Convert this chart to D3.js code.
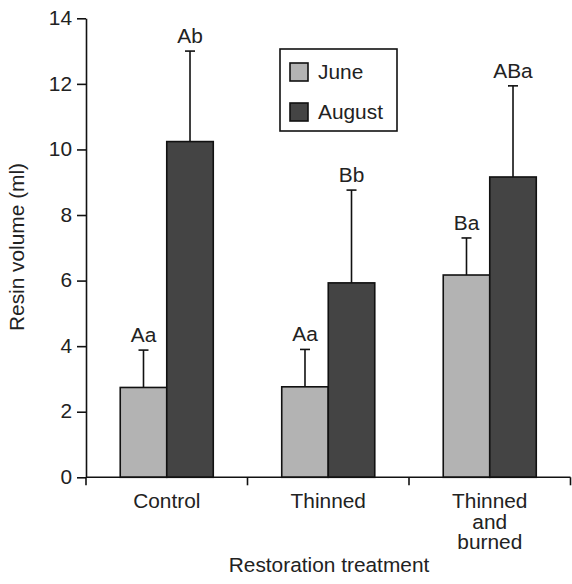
<!DOCTYPE html>
<html><head><meta charset="utf-8">
<script src="https://cdn.jsdelivr.net/npm/d3@7"></script>
<style>body{margin:0;background:#fff}svg{display:block}text{font-family:"Liberation Sans",Arial,Helvetica,sans-serif;fill:#222}</style>
</head><body>
<svg id="c" width="572" height="584"></svg>
<script>
const categories = [["Control"], ["Thinned"], ["Thinned", "and", "burned"]];
const seriesNames = ["June", "August"];
const juneValues = [2.74, 2.76, 6.17];
const juneErrors = [1.14, 1.14, 1.13];
const augustValues = [10.24, 5.93, 9.16];
const augustErrors = [2.76, 2.83, 2.78];
const juneLetters = ["Aa", "Aa", "Ba"];
const augustLetters = ["Ab", "Bb", "ABa"];
const yTicks = [0, 2, 4, 6, 8, 10, 12, 14];
const colors = {June: "#b3b3b3", August: "#444444"};

const svg = d3.select("#c");
const fs = 19.5;
const sx = 1.07;
function txt(parent, x, y, str, anchor, rot) {
  return parent.append("text")
    .attr("transform", `translate(${x},${y})` + (rot ? ` rotate(${rot})` : "") + ` scale(${sx},1)`)
    .attr("text-anchor", anchor || "start").attr("font-size", fs).text(str);
}
const catKeys = categories.map(c => c.join(" "));
const x0 = d3.scaleBand().domain(catKeys).range([86, 570.5]).paddingInner(0).paddingOuter(0);
const x1 = d3.scaleBand().domain(seriesNames).range([0, x0.bandwidth()]).paddingInner(0).paddingOuter(0.736);
const y = d3.scaleLinear().domain([0, 14]).range([477.3, 18.3]);

const rows = [];
catKeys.forEach((k, i) => {
  rows.push({cat: k, s: "June", v: juneValues[i], e: juneErrors[i], l: juneLetters[i]});
  rows.push({cat: k, s: "August", v: augustValues[i], e: augustErrors[i], l: augustLetters[i]});
});

// error bars
const eb = svg.append("g").attr("stroke", "#111").attr("stroke-width", 1.6);
rows.forEach(d => {
  const cx = x0(d.cat) + x1(d.s) + x1.bandwidth() / 2;
  eb.append("line").attr("x1", cx).attr("x2", cx).attr("y1", y(d.v)).attr("y2", y(d.v + d.e));
  eb.append("line").attr("x1", cx - 5).attr("x2", cx + 5).attr("y1", y(d.v + d.e)).attr("y2", y(d.v + d.e));
});

// bars
svg.append("g").selectAll("rect").data(rows).join("rect")
  .attr("x", d => x0(d.cat) + x1(d.s))
  .attr("y", d => y(d.v))
  .attr("width", x1.bandwidth())
  .attr("height", d => y(0) - y(d.v))
  .attr("fill", d => colors[d.s])
  .attr("stroke", "#111").attr("stroke-width", 1.6);

// letters
const lt = svg.append("g");
rows.forEach(d => txt(lt, x0(d.cat) + x1(d.s) + x1.bandwidth() / 2, y(d.v + d.e) - 8, d.l, "middle"));

// y axis
const ya = svg.append("g").attr("transform", "translate(86,0)")
  .call(d3.axisLeft(y).tickValues(yTicks).tickSize(9).tickPadding(5).tickSizeOuter(0));
ya.select(".domain").attr("stroke", "#111").attr("stroke-width", 1.6);
ya.selectAll(".tick line").attr("stroke", "#111").attr("stroke-width", 1.6);
ya.selectAll(".tick text").attr("font-size", fs).attr("fill", "#222")
  .attr("font-family", '"Liberation Sans",Arial,sans-serif')
  .attr("transform", `translate(-14,0) scale(${sx},1)`).attr("x", 0);

// x axis
const xa = svg.append("g").attr("transform", `translate(0,${y(0)})`);
xa.append("line").attr("x1", 86).attr("x2", 570.5).attr("stroke", "#111").attr("stroke-width", 1.6);
const bounds = catKeys.map(k => x0(k)).concat([x0.range()[1]]);
xa.selectAll("line.b").data(bounds).join("line").attr("class", "b")
  .attr("x1", d => d).attr("x2", d => d).attr("y1", 0).attr("y2", 8)
  .attr("stroke", "#111").attr("stroke-width", 1.6);
categories.forEach((c, i) => {
  c.forEach((w, j) => txt(xa, x0(catKeys[i]) + x0.bandwidth() / 2, 31 + j * 20.5, w, "middle"));
});

// titles
txt(svg, 329, 572, "Restoration treatment", "middle");
txt(svg, 24, 247, "Resin volume (ml)", "middle", -90);

// legend
const lg = svg.append("g");
lg.append("rect").attr("x", 280).attr("y", 49).attr("width", 117).attr("height", 82)
  .attr("fill", "#fff").attr("stroke", "#111").attr("stroke-width", 1.6);
seriesNames.forEach((s, i) => {
  lg.append("rect").attr("x", 290).attr("y", 63 + i * 40).attr("width", 18).attr("height", 18)
    .attr("fill", colors[s]).attr("stroke", "#111").attr("stroke-width", 1.6);
  txt(lg, 318, 79 + i * 40, s, "start");
});
</script>
</body></html>
